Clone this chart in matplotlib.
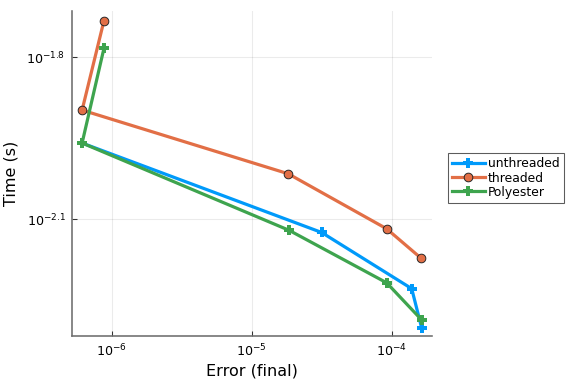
import matplotlib.pyplot as plt
from matplotlib.ticker import FixedLocator, NullLocator

# dane
err_unthreaded = [6.14e-7, 3.16e-5, 1.39e-4, 1.64e-4]
time_unthreaded = [0.01099, 0.00750, 0.00590, 0.00498]

err_threaded = [8.8e-7, 6.14e-7, 1.82e-5, 9.2e-5, 1.61e-4]
time_threaded = [0.01854, 0.01265, 0.00964, 0.00762, 0.00673]

err_polyester = [8.8e-7, 6.14e-7, 1.85e-5, 9.2e-5, 1.64e-4]
time_polyester = [0.01648, 0.01099, 0.00757, 0.00605, 0.00516]

xticks = [1e-6, 1e-5, 1e-4]
xtick_labels = [r"$10^{-6}$", r"$10^{-5}$", r"$10^{-4}$"]
yticks = [10 ** -1.8, 10 ** -2.1]
ytick_labels = [r"$10^{-1.8}$", r"$10^{-2.1}$"]

fig = plt.figure(figsize=(6, 4), dpi=96)
ax = fig.add_axes([72 / 576, 48 / 384, 360 / 576, 325 / 384])

ax.plot(err_unthreaded, time_unthreaded, color="#009AFA", lw=2.4,
        marker="P", ms=7, mew=0, label="unthreaded")
ax.plot(err_threaded, time_threaded, color="#E26F46", lw=2.4,
        marker="o", ms=6.5, mec="#222222", mew=0.7, label="threaded")
ax.plot(err_polyester, time_polyester, color="#3EA44E", lw=2.4,
        marker="P", ms=7, mew=0, label="Polyester")

ax.set_xscale("log")
ax.set_yscale("log")
ax.set_xlim(10 ** -6.284, 10 ** -3.712)
ax.set_ylim(10 ** -2.317, 10 ** -1.714)

ax.xaxis.set_major_locator(FixedLocator(xticks))
ax.xaxis.set_minor_locator(NullLocator())
ax.set_xticklabels(xtick_labels)
ax.yaxis.set_major_locator(FixedLocator(yticks))
ax.yaxis.set_minor_locator(NullLocator())
ax.set_yticklabels(ytick_labels)

ax.tick_params(direction="in", length=4, width=0.8, color="#333333",
               labelsize=9.5, pad=5)
ax.grid(True, color="#000000", alpha=0.08, lw=0.8)
ax.spines["top"].set_visible(False)
ax.spines["right"].set_visible(False)
for s in ["left", "bottom"]:
    ax.spines[s].set_color("#6e6e6e")
    ax.spines[s].set_linewidth(1.2)

ax.set_xlabel("Error (final)", fontsize=12, labelpad=3)
ax.set_ylabel("Time (s)", fontsize=12, labelpad=6)

leg = ax.legend(loc="center left", bbox_to_anchor=(448 / 576, 1 - 178 / 384),
                bbox_transform=fig.transFigure, fontsize=9.3, frameon=True,
                fancybox=False, borderpad=0.35, labelspacing=0.1,
                handlelength=2.6, handletextpad=0.25, borderaxespad=0)
leg.get_frame().set_edgecolor("#333333")
leg.get_frame().set_linewidth(0.8)

fig.savefig("out.png", dpi=96)
